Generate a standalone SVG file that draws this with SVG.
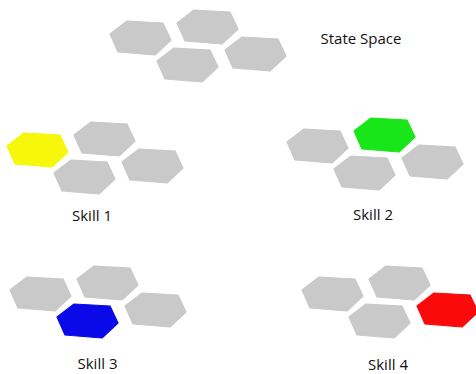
<svg xmlns="http://www.w3.org/2000/svg" xmlns:xlink="http://www.w3.org/1999/xlink" width="476" height="374" viewBox="0 0 476 374">
<style>
text{font-family:"Open Sans","Liberation Sans",sans-serif;font-size:15px;fill:#111;text-anchor:middle}
.g{fill:#c9c9c9;stroke:#c9c9c9}
.y{fill:#f7f70c;stroke:#f7f70c}
.gr{fill:#19e619;stroke:#19e619}
.b{fill:#0a0ae8;stroke:#0a0ae8}
.r{fill:#fa0a0a;stroke:#fa0a0a}
use{stroke-width:1.2;stroke-linejoin:round}
</style>
<defs>
<polygon id="hex" points="0,13 17,0 53,2 61,19 45,34 8,31"/>
</defs>
<rect width="476" height="374" fill="#fff"/>
<g id="state-space" transform="translate(110,21)">
<g id="ss-h1"><use href="#hex" xlink:href="#hex" class="g"/></g>
<g id="ss-h2"><use href="#hex" xlink:href="#hex" class="g" x="67" y="-11"/></g>
<g id="ss-h3"><use href="#hex" xlink:href="#hex" class="g" x="47" y="27"/></g>
<g id="ss-h4"><use href="#hex" xlink:href="#hex" class="g" x="115" y="16"/></g>
</g>
<text id="label-state-space" x="361" y="44">State Space</text>
<g id="skill1" transform="translate(7,133)">
<g id="s1-h1"><use href="#hex" xlink:href="#hex" class="y"/></g>
<g id="s1-h2"><use href="#hex" xlink:href="#hex" class="g" x="67" y="-11"/></g>
<g id="s1-h3"><use href="#hex" xlink:href="#hex" class="g" x="47" y="27"/></g>
<g id="s1-h4"><use href="#hex" xlink:href="#hex" class="g" x="115" y="16"/></g>
</g>
<text id="label-skill1" x="92" y="221">Skill 1</text>
<g id="skill2" transform="translate(287,129)">
<g id="s2-h1"><use href="#hex" xlink:href="#hex" class="g"/></g>
<g id="s2-h2"><use href="#hex" xlink:href="#hex" class="gr" x="67" y="-11"/></g>
<g id="s2-h3"><use href="#hex" xlink:href="#hex" class="g" x="47" y="27"/></g>
<g id="s2-h4"><use href="#hex" xlink:href="#hex" class="g" x="115" y="16"/></g>
</g>
<text id="label-skill2" x="373" y="220">Skill 2</text>
<g id="skill3" transform="translate(10,277)">
<g id="s3-h1"><use href="#hex" xlink:href="#hex" class="g"/></g>
<g id="s3-h2"><use href="#hex" xlink:href="#hex" class="g" x="67" y="-11"/></g>
<g id="s3-h3"><use href="#hex" xlink:href="#hex" class="b" x="47" y="27"/></g>
<g id="s3-h4"><use href="#hex" xlink:href="#hex" class="g" x="115" y="16"/></g>
</g>
<text id="label-skill3" x="97.5" y="369">Skill 3</text>
<g id="skill4" transform="translate(302,277)">
<g id="s4-h1"><use href="#hex" xlink:href="#hex" class="g"/></g>
<g id="s4-h2"><use href="#hex" xlink:href="#hex" class="g" x="67" y="-11"/></g>
<g id="s4-h3"><use href="#hex" xlink:href="#hex" class="g" x="47" y="27"/></g>
<g id="s4-h4"><use href="#hex" xlink:href="#hex" class="r" x="115" y="16"/></g>
</g>
<text id="label-skill4" x="388" y="370">Skill 4</text>
</svg>
